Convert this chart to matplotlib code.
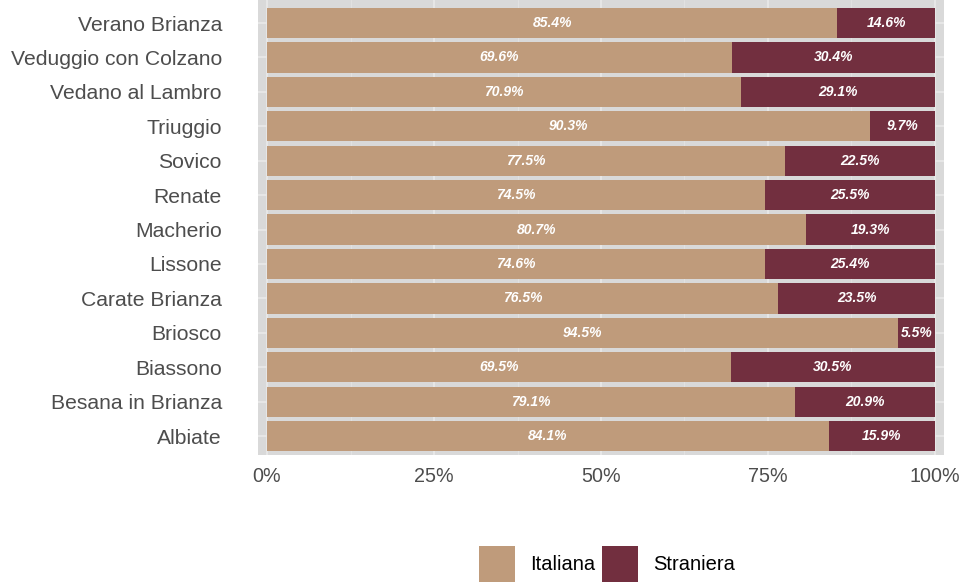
import matplotlib.pyplot as plt
from matplotlib.patches import Patch

comuni = ["Albiate", "Besana in Brianza", "Biassono", "Briosco", "Carate Brianza",
          "Lissone", "Macherio", "Renate", "Sovico", "Triuggio",
          "Vedano al Lambro", "Veduggio con Colzano", "Verano Brianza"]
italiana = [84.1, 79.1, 69.5, 94.5, 76.5, 74.6, 80.7, 74.5, 77.5, 90.3, 70.9, 69.6, 85.4]
straniera = [15.9, 20.9, 30.5, 5.5, 23.5, 25.4, 19.3, 25.5, 22.5, 9.7, 29.1, 30.4, 14.6]
xticks = [0, 25, 50, 75, 100]

col_it = "#BF9B7B"
col_st = "#722F3F"

plt.rcParams['font.family'] = ['Liberation Sans', 'DejaVu Sans']

fig = plt.figure(figsize=(9.65, 5.82), dpi=100)
ax = fig.add_axes([258 / 965, 1 - 455 / 582, 686 / 965, 455 / 582])
ax.set_facecolor("#D9D9D9")

y = list(range(len(comuni)))
ax.barh(y, italiana, height=0.88, color=col_it, zorder=2)
ax.barh(y, straniera, left=italiana, height=0.88, color=col_st, zorder=2)

lab = dict(color="white", fontsize=10, fontweight="bold", fontstyle="italic",
           ha="center", va="center", zorder=3)
for i in y:
    ax.text(italiana[i] / 2, i, f"{italiana[i]:.1f}%", **lab)
    ax.text(italiana[i] + straniera[i] / 2, i, f"{straniera[i]:.1f}%", **lab)

ax.set_xlim(-1.35, 101.35)
ax.set_ylim(-0.55, 12.67)
ax.set_xticks(xticks)
ax.set_xticklabels([f"{t}%" for t in xticks])
ax.set_xticks([12.5, 37.5, 62.5, 87.5], minor=True)
ax.set_yticks(y)
ax.set_yticklabels(comuni)
ax.grid(True, which="major", color="#EBEBEB", linewidth=1.1, zorder=0)
ax.grid(True, which="minor", axis="x", color="#E3E3E3", linewidth=0.6, zorder=0)
ax.tick_params(axis="both", which="both", length=0, colors="#4D4D4D")
ax.tick_params(axis="y", labelsize=15.2, pad=26)
ax.tick_params(axis="x", labelsize=14.2, pad=9)
for s in ax.spines.values():
    s.set_visible(False)

handles = [Patch(facecolor=col_it, label="Italiana"),
           Patch(facecolor=col_st, label="Straniera")]
fig.legend(handles=handles, loc="center", bbox_to_anchor=(607 / 965, 1 - 564 / 582),
           ncol=2, frameon=False, fontsize=14.5, handlelength=1.8, handleheight=2.3,
           columnspacing=0.35, handletextpad=0.75, borderpad=0)

fig.savefig("out.png", dpi=100)
